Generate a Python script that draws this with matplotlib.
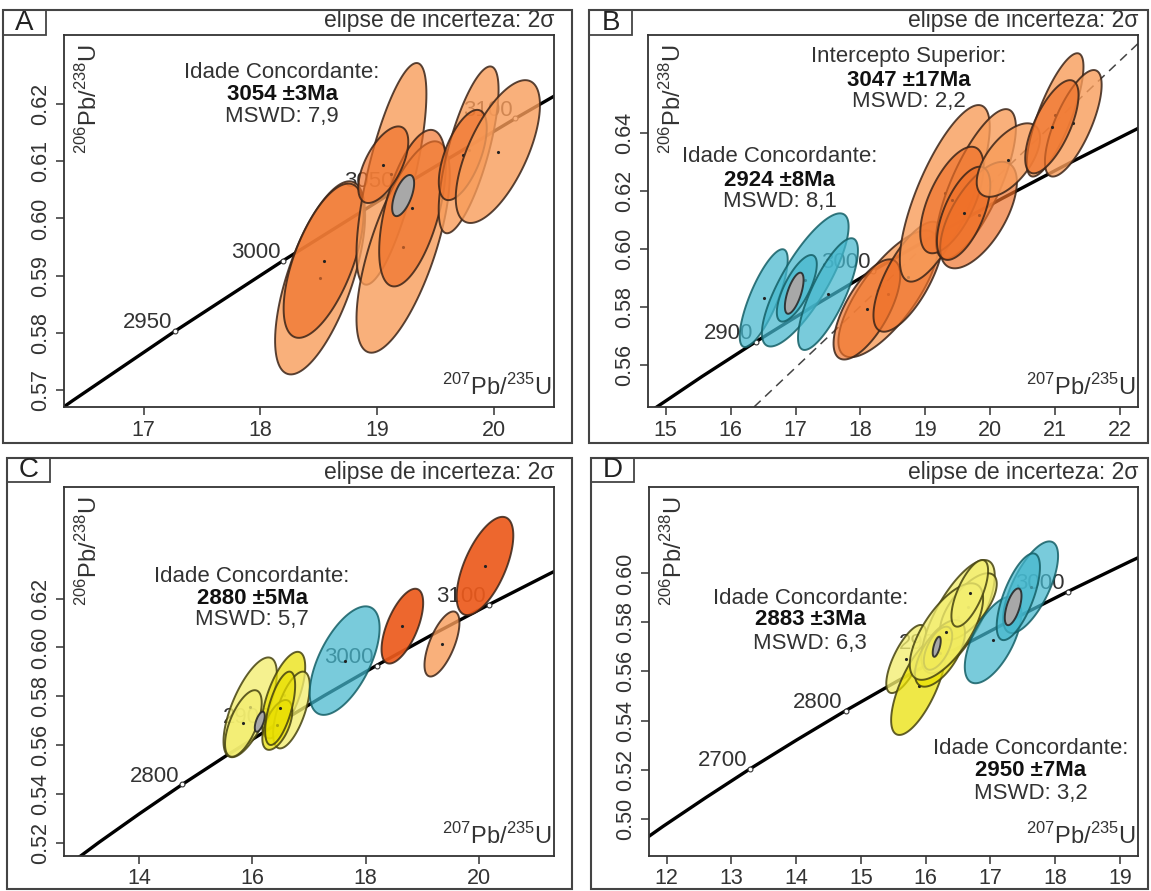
import numpy as np
import matplotlib.pyplot as plt
from matplotlib.patches import Polygon, Rectangle
from matplotlib.colors import to_rgba

plt.rcParams['font.family'] = ['Liberation Sans', 'DejaVu Sans']
plt.rcParams['mathtext.fontset'] = 'custom'
plt.rcParams['mathtext.rm'] = 'Liberation Sans'
plt.rcParams['mathtext.bf'] = 'Liberation Sans:bold'

# Concordia (idade em Ma, 207Pb/235U, 206Pb/238U)
conc_age = [2500, 2550, 2600, 2650, 2700, 2750, 2800, 2850, 2900, 2950,
            3000, 3050, 3100, 3150, 3200, 3250]
conc_x = [10.730, 11.322, 11.944, 12.597, 13.283, 14.004, 14.762, 15.557,
          16.393, 17.271, 18.193, 19.162, 20.180, 21.249, 22.371, 23.551]
conc_y = [0.4738, 0.4852, 0.4968, 0.5084, 0.5202, 0.5320, 0.5440, 0.5560,
          0.5681, 0.5803, 0.5926, 0.6050, 0.6175, 0.6301, 0.6428, 0.6556]

# ===== Painel A =====
a_cx = [18.51, 18.54, 19.12, 19.22, 19.30, 19.78, 19.73, 20.03, 19.05, 19.22]
a_cy = [0.5896, 0.5926, 0.6078, 0.5950, 0.6018, 0.6120, 0.6111, 0.6117, 0.6094, 0.6040]
a_sx = [0.385, 0.342, 0.299, 0.399, 0.285, 0.256, 0.205, 0.360, 0.214, 0.094]
a_sy = [0.0169, 0.0135, 0.0194, 0.0185, 0.0137, 0.0146, 0.0079, 0.0125, 0.0067, 0.0036]
a_rho = [0.65, 0.62, 0.72, 0.68, 0.55, 0.72, 0.60, 0.65, 0.60, 0.60]
a_kind = ['l', 'm', 'l', 'l', 'm', 'l', 'm', 'l', 'm', 'g']
a_ages = [2950, 3000, 3050, 3100]

# ===== Painel B =====
b_cx = [16.51, 17.15, 17.02, 17.50, 18.43, 18.10, 18.74, 19.30, 19.78, 19.41,
        19.82, 19.59, 20.28, 21.00, 21.28, 20.95, 16.98]
b_cy = [0.5831, 0.5894, 0.5865, 0.5845, 0.5846, 0.5792, 0.5905, 0.6193, 0.6225, 0.6170,
        0.6118, 0.6124, 0.6308, 0.6464, 0.6435, 0.6423, 0.5848]
b_sx = [0.370, 0.668, 0.308, 0.462, 0.770, 0.514, 0.539, 0.693, 0.616, 0.488,
        0.591, 0.411, 0.488, 0.437, 0.437, 0.411, 0.144]
b_sy = [0.0169, 0.0230, 0.0115, 0.0193, 0.0219, 0.0173, 0.0190, 0.0305, 0.0259, 0.0184,
        0.0184, 0.0161, 0.0127, 0.0213, 0.0184, 0.0161, 0.0071]
b_rho = [0.78, 0.80, 0.72, 0.78, 0.75, 0.68, 0.70, 0.75, 0.75, 0.62,
         0.62, 0.60, 0.60, 0.78, 0.72, 0.68, 0.65]
b_kind = ['c', 'c', 'c', 'c', 'l', 'm', 'm', 'l', 'l', 'm',
          'm', 'm', 'l', 'l', 'l', 'm', 'g']
b_ages = [2900, 3000]
b_disc_x = [16.36, 22.28]
b_disc_y = [0.5455, 0.6711]

# ===== Painel C =====
c_cx = [15.96, 16.55, 16.69, 16.44, 15.84, 16.49, 17.63, 18.65, 19.35, 20.11, 16.13]
c_cy = [0.5755, 0.5805, 0.5744, 0.5683, 0.5689, 0.5751, 0.5946, 0.6087, 0.6014, 0.6333, 0.5696]
c_sx = [0.471, 0.383, 0.324, 0.265, 0.324, 0.265, 0.618, 0.368, 0.309, 0.501, 0.088]
c_sy = [0.0204, 0.0177, 0.0157, 0.0102, 0.0136, 0.0150, 0.0222, 0.0153, 0.0133, 0.0201, 0.0041]
c_rho = [0.68, 0.65, 0.62, 0.55, 0.62, 0.62, 0.60, 0.62, 0.65, 0.62, 0.60]
c_kind = ['yl', 'yb', 'yl', 'yb', 'yl', 'yb', 'c', 'd', 'l', 'd', 'g']
c_ages = [2800, 2900, 3000, 3100]

# ===== Painel D =====
d_cx = [15.70, 15.89, 16.50, 16.66, 16.22, 16.19, 16.32, 16.68, 17.04, 17.62, 17.43, 16.17, 17.35]
d_cy = [0.5651, 0.5542, 0.5824, 0.5865, 0.5674, 0.5695, 0.5763, 0.5919, 0.5729, 0.5944, 0.5905, 0.5701, 0.5864]
d_sx = [0.309, 0.424, 0.566, 0.437, 0.386, 0.219, 0.566, 0.283, 0.437, 0.424, 0.334, 0.062, 0.129]
d_sy = [0.0139, 0.0201, 0.0231, 0.0136, 0.0136, 0.0088, 0.0197, 0.0136, 0.0177, 0.0187, 0.0177, 0.0041, 0.0075]
d_rho = [0.72, 0.70, 0.72, 0.68, 0.62, 0.58, 0.68, 0.68, 0.62, 0.68, 0.68, 0.60, 0.60]
d_kind = ['yl', 'yb', 'yl', 'yl', 'yb', 'yb', 'yl', 'yl', 'c', 'c', 'c', 'g', 'g']
d_ages = [2700, 2800, 2900, 3000]

# cores de preenchimento / borda
fills = {'l': ('#F89C5A', 0.80), 'm': ('#EF7028', 0.68), 'd': ('#EC5A1C', 0.92),
         'c': ('#45B8CE', 0.72), 'yl': ('#F3EE70', 0.78), 'yb': ('#EAE000', 0.72),
         'g': ('#A8A8A8', 1.0)}
edges = {'l': '#3a2418', 'm': '#3a2418', 'd': '#3a2418', 'c': '#145f66',
         'yl': '#45420f', 'yb': '#45420f', 'g': '#222222'}

W, H = 1151, 891
fig = plt.figure(figsize=(W / 100, H / 100), dpi=100)


def px_rect(x0, y0, x1, y1):
    return [x0 / W, 1 - y1 / H, (x1 - x0) / W, (y1 - y0) / H]


def frame(x0, y0, x1, y1, lw=1.5):
    fig.add_artist(Rectangle((x0 / W, 1 - y1 / H), (x1 - x0) / W, (y1 - y0) / H,
                             transform=fig.transFigure, fill=False, lw=lw, ec='#444444'))


def ellipse(ax, cx, cy, sx, sy, rho, kind, z):
    t = np.linspace(0, 2 * np.pi, 120)
    ex = cx + sx * np.cos(t)
    ey = cy + sy * (rho * np.cos(t) + np.sqrt(1 - rho ** 2) * np.sin(t))
    col, a = fills[kind]
    ax.add_patch(Polygon(np.column_stack([ex, ey]), closed=True,
                         fc=to_rgba(col, a), ec=to_rgba(edges[kind], 0.85),
                         lw=1.4, zorder=z))
    if kind != 'g':
        ax.plot(cx, cy, '.', ms=2.5, color='#222222', zorder=z + 0.01)


def panel(rect, letter, box, lbox, xlim, ylim, xticks, yticks, ages,
          cx, cy, sx, sy, rho, kind, notes):
    frame(*box)
    frame(*lbox, lw=1.3)
    fig.text((lbox[0] + lbox[2]) / 2 / W, 1 - (lbox[1] + lbox[3]) / 2 / H, letter,
             ha='center', va='center', fontsize=20, color='#222222')
    ax = fig.add_axes(rect)
    ax.set_xlim(*xlim)
    ax.set_ylim(*ylim)
    ax.set_xticks(xticks)
    ax.set_yticks(yticks)
    ax.set_yticklabels(['%.2f' % v for v in yticks])
    ax.tick_params(direction='out', length=6, width=1.1, labelsize=15.5,
                   labelcolor='#333333', color='#333333', pad=3)
    for lab in ax.get_yticklabels():
        lab.set_rotation(90)
        lab.set_va('center')
    for s in ax.spines.values():
        s.set_linewidth(1.3)
        s.set_color('#333333')

    ax.plot(conc_x, conc_y, color='black', lw=2.4, zorder=1)
    for age in ages:
        i = conc_age.index(age)
        ax.plot(conc_x[i], conc_y[i], 'o', ms=3.5, mfc='white', mec='#333333',
                mew=0.8, zorder=1.5)
        ax.annotate(str(age), (conc_x[i], conc_y[i]), xytext=(-2, 6),
                    textcoords='offset points', ha='right', va='center',
                    fontsize=16, color='#333333', zorder=1.5)

    for k in range(len(cx)):
        ellipse(ax, cx[k], cy[k], sx[k], sy[k], rho[k], kind[k], 3 + k * 0.05)

    ax.text(1.0, 1.008, 'elipse de incerteza: 2σ', transform=ax.transAxes,
            ha='right', va='bottom', fontsize=16.5, color='#333333')
    ax.text(0.05, 0.975, r'$^{206}$Pb/$^{238}$U', transform=ax.transAxes,
            rotation=90, ha='center', va='top', fontsize=17, color='#333333', zorder=10)
    ax.text(0.995, 0.02, r'$^{207}$Pb/$^{235}$U', transform=ax.transAxes,
            ha='right', va='bottom', fontsize=17, color='#333333', zorder=10)

    for (l1, l2, l3), xf, yfs in notes:
        ax.text(xf, yfs[0], l1, transform=ax.transAxes, ha='center', va='center',
                fontsize=16, color='#333333', zorder=10)
        ax.text(xf, yfs[1], l2, transform=ax.transAxes, ha='center', va='center',
                fontsize=16, color='#111111', fontweight='bold', zorder=10)
        ax.text(xf, yfs[2], l3, transform=ax.transAxes, ha='center', va='center',
                fontsize=16, color='#333333', zorder=10)
    return ax


panel(px_rect(64, 35, 554, 407), 'A', (3, 10, 572, 443), (3, 10, 46, 35),
      (16.32, 20.51), (0.567, 0.6321), [17, 18, 19, 20],
      [0.57, 0.58, 0.59, 0.60, 0.61, 0.62], a_ages,
      a_cx, a_cy, a_sx, a_sy, a_rho, a_kind,
      [(('Idade Concordante:', '3054 ±3Ma', 'MSWD: 7,9'), 0.445, (0.90, 0.839, 0.78))])

axb = panel(px_rect(648, 35, 1138, 407), 'B', (589, 10, 1148, 443), (589, 10, 632, 35),
            (14.727, 22.277), (0.5455, 0.674), [15, 16, 17, 18, 19, 20, 21, 22],
            [0.56, 0.58, 0.60, 0.62, 0.64], b_ages,
            b_cx, b_cy, b_sx, b_sy, b_rho, b_kind,
            [(('Intercepto Superior:', '3047 ±17Ma', 'MSWD: 2,2'), 0.532, (0.942, 0.879, 0.821)),
             (('Idade Concordante:', '2924 ±8Ma', 'MSWD: 8,1'), 0.269, (0.673, 0.610, 0.552))])
axb.plot(b_disc_x, b_disc_y, color='#444444', lw=1.1, ls=(0, (6, 4)), zorder=2)

panel(px_rect(64, 487, 554, 856), 'C', (7, 458, 572, 889), (7, 458, 50, 482),
      (12.67, 21.33), (0.5147, 0.6656), [14, 16, 18, 20],
      [0.52, 0.54, 0.56, 0.58, 0.60, 0.62], c_ages,
      c_cx, c_cy, c_sx, c_sy, c_rho, c_kind,
      [(('Idade Concordante:', '2880 ±5Ma', 'MSWD: 5,7'), 0.384, (0.757, 0.698, 0.640))])

panel(px_rect(649, 487, 1138, 856), 'D', (591, 458, 1148, 889), (591, 458, 634, 482),
      (11.727, 19.278), (0.4847, 0.6353), [12, 13, 14, 15, 16, 17, 18, 19],
      [0.50, 0.52, 0.54, 0.56, 0.58, 0.60], d_ages,
      d_cx, d_cy, d_sx, d_sy, d_rho, d_kind,
      [(('Idade Concordante:', '2883 ±3Ma', 'MSWD: 6,3'), 0.330, (0.698, 0.640, 0.576)),
       (('Idade Concordante:', '2950 ±7Ma', 'MSWD: 3,2'), 0.780, (0.292, 0.233, 0.170))])

fig.savefig('out.png', dpi=100)
